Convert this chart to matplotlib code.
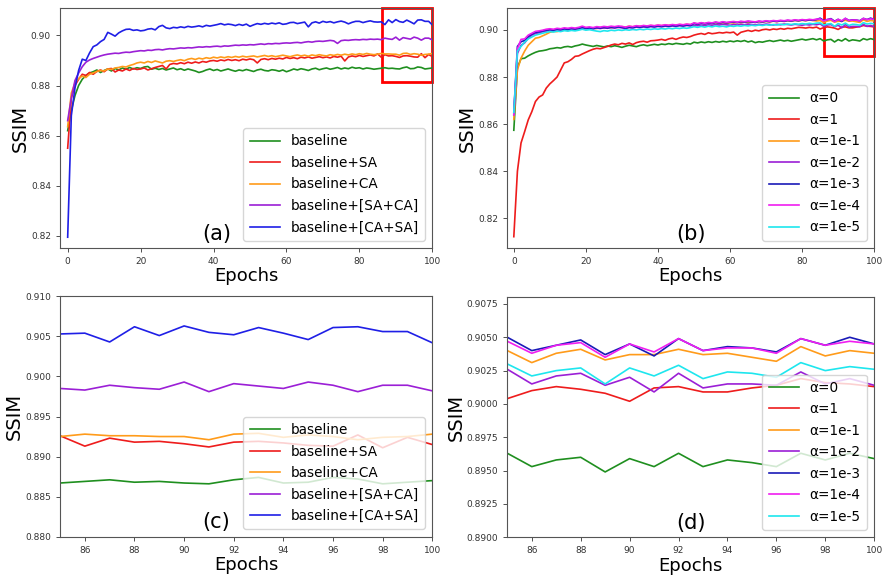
import matplotlib
matplotlib.use("Agg")
import matplotlib.pyplot as plt
from matplotlib.patches import Rectangle
import numpy as np

# ---------------- data ----------------
epochs_full = list(range(0, 101))
epochs_zoom = list(range(85, 101))

# Panel (a): epochs 0..84
a_baseline_early = [
    0.8620, 0.8700, 0.8760, 0.8800, 0.8825, 0.8840, 0.8850, 0.8855, 0.8862, 0.8852,
    0.8860, 0.8866, 0.8858, 0.8868, 0.8862, 0.8870, 0.8865, 0.8872, 0.8866, 0.8871,
    0.8868, 0.8874, 0.8876, 0.8865, 0.8869, 0.8864, 0.8868, 0.8862, 0.8866, 0.8870,
    0.8863, 0.8867, 0.8861, 0.8866, 0.8862, 0.8858, 0.8852, 0.8856, 0.8862, 0.8866,
    0.8860, 0.8864, 0.8858, 0.8862, 0.8866, 0.8861, 0.8857, 0.8862, 0.8859, 0.8864,
    0.8860, 0.8856, 0.8862, 0.8865, 0.8860, 0.8858, 0.8863, 0.8861, 0.8857, 0.8862,
    0.8855, 0.8860, 0.8866, 0.8862, 0.8867, 0.8864, 0.8860, 0.8866, 0.8869, 0.8863,
    0.8867, 0.8870, 0.8865, 0.8868, 0.8872, 0.8866, 0.8870, 0.8867, 0.8873, 0.8869,
    0.8871, 0.8866, 0.8870, 0.8868, 0.8865]
a_sa_early = [
    0.8550, 0.8750, 0.8800, 0.8825, 0.8845, 0.8840, 0.8852, 0.8845, 0.8856, 0.8862,
    0.8855, 0.8866, 0.8868, 0.8854, 0.8862, 0.8858, 0.8866, 0.8860, 0.8868, 0.8864,
    0.8866, 0.8870, 0.8862, 0.8867, 0.8872, 0.8876, 0.8880, 0.8866, 0.8884, 0.8888,
    0.8886, 0.8891, 0.8887, 0.8893, 0.8889, 0.8894, 0.8890, 0.8896, 0.8893, 0.8898,
    0.8900, 0.8897, 0.8902, 0.8899, 0.8904, 0.8900, 0.8903, 0.8899, 0.8905, 0.8902,
    0.8906, 0.8903, 0.8890, 0.8904, 0.8907, 0.8903, 0.8908, 0.8905, 0.8909, 0.8906,
    0.8912, 0.8908, 0.8911, 0.8907, 0.8913, 0.8910, 0.8914, 0.8909, 0.8912, 0.8915,
    0.8911, 0.8914, 0.8910, 0.8916, 0.8913, 0.8917, 0.8898, 0.8914, 0.8918, 0.8915,
    0.8920, 0.8916, 0.8919, 0.8922, 0.8918]
a_ca_early = [
    0.8636, 0.8770, 0.8810, 0.8828, 0.8838, 0.8832, 0.8845, 0.8850, 0.8856, 0.8860,
    0.8858, 0.8866, 0.8864, 0.8870, 0.8872, 0.8876, 0.8874, 0.8880, 0.8884, 0.8890,
    0.8893, 0.8890, 0.8896, 0.8892, 0.8898, 0.8894, 0.8890, 0.8897, 0.8899, 0.8896,
    0.8900, 0.8903, 0.8899, 0.8905, 0.8908, 0.8904, 0.8909, 0.8906, 0.8911, 0.8908,
    0.8913, 0.8910, 0.8914, 0.8911, 0.8915, 0.8912, 0.8916, 0.8913, 0.8917, 0.8914,
    0.8916, 0.8918, 0.8914, 0.8917, 0.8920, 0.8916, 0.8919, 0.8915, 0.8918, 0.8921,
    0.8918, 0.8915, 0.8919, 0.8922, 0.8918, 0.8921, 0.8917, 0.8922, 0.8919, 0.8923,
    0.8920, 0.8918, 0.8923, 0.8920, 0.8924, 0.8921, 0.8925, 0.8922, 0.8926, 0.8923,
    0.8927, 0.8924, 0.8928, 0.8925, 0.8923]
a_sa_ca_early = [
    0.8660, 0.8750, 0.8820, 0.8850, 0.8875, 0.8893, 0.8902, 0.8908, 0.8913, 0.8918,
    0.8922, 0.8925, 0.8927, 0.8929, 0.8928, 0.8931, 0.8933, 0.8932, 0.8935, 0.8937,
    0.8939, 0.8938, 0.8941, 0.8940, 0.8943, 0.8944, 0.8942, 0.8945, 0.8947, 0.8946,
    0.8948, 0.8950, 0.8949, 0.8951, 0.8950, 0.8952, 0.8954, 0.8953, 0.8955, 0.8954,
    0.8956, 0.8957, 0.8955, 0.8958, 0.8957, 0.8959, 0.8961, 0.8960, 0.8962, 0.8961,
    0.8963, 0.8962, 0.8964, 0.8966, 0.8964, 0.8967, 0.8966, 0.8968, 0.8967, 0.8969,
    0.8970, 0.8969, 0.8971, 0.8972, 0.8970, 0.8973, 0.8975, 0.8973, 0.8976, 0.8977,
    0.8976, 0.8978, 0.8980, 0.8978, 0.8968, 0.8979, 0.8981, 0.8980, 0.8982, 0.8983,
    0.8982, 0.8984, 0.8983, 0.8985, 0.8984]
a_ca_sa_early = [
    0.8195, 0.8680, 0.8790, 0.8860, 0.8905, 0.8900, 0.8930, 0.8955, 0.8962, 0.8975,
    0.8984, 0.9012, 0.9005, 0.8997, 0.9010, 0.9018, 0.9024, 0.9025, 0.9020, 0.9022,
    0.9018, 0.9020, 0.9025, 0.9027, 0.9022, 0.9035, 0.9040, 0.9030, 0.9027, 0.9032,
    0.9030, 0.9034, 0.9031, 0.9036, 0.9033, 0.9035, 0.9038, 0.9034, 0.9040, 0.9037,
    0.9040, 0.9043, 0.9047, 0.9042, 0.9045, 0.9043, 0.9039, 0.9044, 0.9040, 0.9045,
    0.9036, 0.9042, 0.9047, 0.9044, 0.9048, 0.9045, 0.9049, 0.9046, 0.9050, 0.9044,
    0.9046, 0.9051, 0.9052, 0.9047, 0.9050, 0.9053, 0.9034, 0.9050, 0.9054, 0.9049,
    0.9056, 0.9052, 0.9055, 0.9050, 0.9054, 0.9057, 0.9053, 0.9046, 0.9052, 0.9056,
    0.9056, 0.9051, 0.9055, 0.9058, 0.9054]

# Panel (c): epochs 85..100
c_baseline = [0.8867, 0.8869, 0.8871, 0.8868, 0.8869, 0.8867, 0.8866, 0.8871, 0.8874,
              0.8867, 0.8868, 0.8874, 0.8872, 0.8866, 0.8868, 0.8870]
c_sa = [0.8926, 0.8913, 0.8923, 0.8918, 0.8919, 0.8916, 0.8912, 0.8918, 0.8919,
        0.8917, 0.8914, 0.8913, 0.8927, 0.8911, 0.8924, 0.8915]
c_ca = [0.8925, 0.8928, 0.8926, 0.8926, 0.8925, 0.8925, 0.8921, 0.8928, 0.8929,
        0.8924, 0.8927, 0.8925, 0.8921, 0.8924, 0.8925, 0.8928]
c_sa_ca = [0.8985, 0.8983, 0.8989, 0.8986, 0.8984, 0.8993, 0.8981, 0.8991, 0.8988,
           0.8985, 0.8993, 0.8989, 0.8981, 0.8989, 0.8989, 0.8982]
c_ca_sa = [0.9053, 0.9054, 0.9043, 0.9062, 0.9051, 0.9063, 0.9055, 0.9052, 0.9061,
           0.9054, 0.9046, 0.9061, 0.9062, 0.9056, 0.9056, 0.9042]

# Panel (b): epochs 0..84
b_a0_early = [
    0.8574, 0.8840, 0.8878, 0.8880, 0.8890, 0.8898, 0.8905, 0.8910, 0.8912, 0.8915,
    0.8920, 0.8922, 0.8925, 0.8923, 0.8928, 0.8930, 0.8927, 0.8932, 0.8935, 0.8940,
    0.8936, 0.8933, 0.8930, 0.8934, 0.8931, 0.8928, 0.8932, 0.8929, 0.8933, 0.8930,
    0.8926, 0.8931, 0.8935, 0.8932, 0.8929, 0.8934, 0.8937, 0.8933, 0.8936, 0.8939,
    0.8936, 0.8940, 0.8938, 0.8942, 0.8939, 0.8943, 0.8941, 0.8939, 0.8943, 0.8940,
    0.8948, 0.8945, 0.8949, 0.8946, 0.8950, 0.8947, 0.8951, 0.8948, 0.8952, 0.8949,
    0.8953, 0.8950, 0.8954, 0.8951, 0.8955, 0.8949, 0.8953, 0.8946, 0.8950, 0.8948,
    0.8952, 0.8955, 0.8951, 0.8954, 0.8957, 0.8953, 0.8956, 0.8952, 0.8955, 0.8958,
    0.8961, 0.8957, 0.8960, 0.8963, 0.8958]
b_a1_early = [
    0.8122, 0.8400, 0.8520, 0.8568, 0.8618, 0.8653, 0.8696, 0.8715, 0.8724, 0.8753,
    0.8771, 0.8785, 0.8800, 0.8830, 0.8860, 0.8865, 0.8875, 0.8888, 0.8890, 0.8898,
    0.8905, 0.8912, 0.8918, 0.8922, 0.8920, 0.8925, 0.8930, 0.8936, 0.8940, 0.8937,
    0.8943, 0.8940, 0.8945, 0.8938, 0.8946, 0.8950, 0.8952, 0.8948, 0.8954, 0.8955,
    0.8957, 0.8960, 0.8956, 0.8962, 0.8965, 0.8960, 0.8966, 0.8970, 0.8968, 0.8972,
    0.8978, 0.8982, 0.8985, 0.8981, 0.8988, 0.8984, 0.8986, 0.8989, 0.8987, 0.8990,
    0.8988, 0.8991, 0.8978, 0.8990, 0.8994, 0.8998, 0.8994, 0.8999, 0.8996, 0.9001,
    0.9003, 0.9000, 0.9004, 0.9002, 0.9006, 0.9003, 0.9007, 0.9005, 0.9008, 0.9011,
    0.9010, 0.9008, 0.9011, 0.9009, 0.9012]
b_a1e1_early = [
    0.8620, 0.8830, 0.8880, 0.8910, 0.8935, 0.8950, 0.8965, 0.8968, 0.8975, 0.8982,
    0.8990, 0.8994, 0.8993, 0.8997, 0.9000, 0.8998, 0.9002, 0.9000, 0.9003, 0.9005,
    0.9007, 0.9004, 0.9008, 0.9006, 0.9010, 0.9008, 0.9012, 0.9009, 0.9013, 0.9011,
    0.9014, 0.9012, 0.9016, 0.9013, 0.9017, 0.9015, 0.9018, 0.9016, 0.9019, 0.9017,
    0.9020, 0.9018, 0.9021, 0.9019, 0.9022, 0.9020, 0.9023, 0.9021, 0.9024, 0.9022,
    0.9028, 0.9025, 0.9029, 0.9026, 0.9030, 0.9027, 0.9031, 0.9028, 0.9030, 0.9027,
    0.9031, 0.9029, 0.9032, 0.9030, 0.9033, 0.9031, 0.9034, 0.9032, 0.9035, 0.9033,
    0.9036, 0.9034, 0.9037, 0.9035, 0.9038, 0.9036, 0.9039, 0.9037, 0.9040, 0.9038,
    0.9041, 0.9039, 0.9042, 0.9040, 0.9038]
b_a1e2_early = [
    0.8640, 0.8900, 0.8935, 0.8945, 0.8965, 0.8978, 0.8985, 0.8988, 0.8992, 0.8995,
    0.8998, 0.8996, 0.9000, 0.8998, 0.9002, 0.9000, 0.9004, 0.9002, 0.9005, 0.9008,
    0.9005, 0.9007, 0.9004, 0.9008, 0.9006, 0.9009, 0.9007, 0.9010, 0.9008, 0.9011,
    0.9009, 0.9006, 0.9010, 0.9008, 0.9012, 0.9010, 0.9013, 0.9011, 0.9014, 0.9012,
    0.9015, 0.9013, 0.9016, 0.9014, 0.9017, 0.9015, 0.9018, 0.9016, 0.9019, 0.9017,
    0.9020, 0.9018, 0.9021, 0.9019, 0.9022, 0.9020, 0.9023, 0.9021, 0.9024, 0.9022,
    0.9020, 0.9023, 0.9021, 0.9024, 0.9022, 0.9025, 0.9023, 0.9021, 0.9024, 0.9022,
    0.9025, 0.9023, 0.9021, 0.9024, 0.9022, 0.9025, 0.9023, 0.9021, 0.9024, 0.9022,
    0.9020, 0.9023, 0.9021, 0.9024, 0.9022]
b_a1e3_early = [
    0.8650, 0.8930, 0.8950, 0.8955, 0.8972, 0.8982, 0.8990, 0.8992, 0.8996, 0.8999,
    0.9001, 0.8999, 0.9003, 0.9001, 0.9005, 0.9003, 0.9006, 0.9004, 0.9007, 0.9010,
    0.9007, 0.9009, 0.9006, 0.9010, 0.9008, 0.9011, 0.9009, 0.9012, 0.9010, 0.9013,
    0.9011, 0.9008, 0.9012, 0.9010, 0.9014, 0.9012, 0.9015, 0.9013, 0.9016, 0.9014,
    0.9017, 0.9015, 0.9018, 0.9016, 0.9019, 0.9017, 0.9020, 0.9018, 0.9021, 0.9019,
    0.9028, 0.9024, 0.9029, 0.9026, 0.9030, 0.9028, 0.9032, 0.9029, 0.9033, 0.9030,
    0.9032, 0.9034, 0.9031, 0.9035, 0.9033, 0.9036, 0.9034, 0.9032, 0.9036, 0.9034,
    0.9037, 0.9035, 0.9038, 0.9036, 0.9039, 0.9037, 0.9040, 0.9038, 0.9041, 0.9039,
    0.9042, 0.9040, 0.9043, 0.9041, 0.9044]
b_a1e4_early = [
    0.8640, 0.8920, 0.8960, 0.8962, 0.8978, 0.8986, 0.8994, 0.8996, 0.8999, 0.9003,
    0.9005, 0.9003, 0.9007, 0.9005, 0.9009, 0.9007, 0.9010, 0.9008, 0.9011, 0.9016,
    0.9011, 0.9013, 0.9010, 0.9014, 0.9012, 0.9015, 0.9013, 0.9016, 0.9014, 0.9017,
    0.9015, 0.9012, 0.9016, 0.9014, 0.9018, 0.9016, 0.9019, 0.9017, 0.9020, 0.9018,
    0.9021, 0.9019, 0.9022, 0.9020, 0.9023, 0.9021, 0.9024, 0.9022, 0.9025, 0.9023,
    0.9030, 0.9027, 0.9031, 0.9028, 0.9032, 0.9030, 0.9034, 0.9031, 0.9035, 0.9032,
    0.9034, 0.9036, 0.9033, 0.9037, 0.9035, 0.9038, 0.9036, 0.9034, 0.9038, 0.9036,
    0.9039, 0.9037, 0.9040, 0.9038, 0.9041, 0.9039, 0.9042, 0.9040, 0.9043, 0.9041,
    0.9044, 0.9042, 0.9045, 0.9043, 0.9046]
b_a1e5_early = [
    0.8650, 0.8910, 0.8930, 0.8948, 0.8962, 0.8970, 0.8978, 0.8982, 0.8986, 0.8990,
    0.8993, 0.8991, 0.8995, 0.8993, 0.8997, 0.8995, 0.8998, 0.8996, 0.8999, 0.9003,
    0.8999, 0.9001, 0.8998, 0.8995, 0.8993, 0.8997, 0.8995, 0.8999, 0.8997, 0.9000,
    0.8998, 0.9001, 0.8999, 0.9002, 0.9000, 0.9003, 0.9001, 0.9004, 0.9002, 0.9005,
    0.9003, 0.9006, 0.9004, 0.9007, 0.9005, 0.9008, 0.9006, 0.9009, 0.9007, 0.9010,
    0.9014, 0.9011, 0.9015, 0.9012, 0.9016, 0.9013, 0.9017, 0.9014, 0.9016, 0.9013,
    0.9017, 0.9015, 0.9018, 0.9016, 0.9019, 0.9017, 0.9020, 0.9018, 0.9021, 0.9019,
    0.9022, 0.9020, 0.9023, 0.9021, 0.9024, 0.9022, 0.9025, 0.9023, 0.9026, 0.9024,
    0.9027, 0.9025, 0.9028, 0.9026, 0.9029]

# Panel (d): epochs 85..100
d_a0 = [0.8963, 0.8953, 0.8958, 0.8960, 0.8949, 0.8959, 0.8953, 0.8963, 0.8953,
        0.8958, 0.8956, 0.8953, 0.8963, 0.8958, 0.8963, 0.8959]
d_a1 = [0.9004, 0.9010, 0.9013, 0.9011, 0.9008, 0.9002, 0.9012, 0.9013, 0.9009,
        0.9009, 0.9012, 0.9014, 0.9019, 0.9016, 0.9015, 0.9013]
d_a1e1 = [0.9040, 0.9031, 0.9038, 0.9041, 0.9033, 0.9037, 0.9037, 0.9041, 0.9037,
          0.9038, 0.9035, 0.9032, 0.9043, 0.9036, 0.9040, 0.9038]
d_a1e2 = [0.9026, 0.9015, 0.9021, 0.9023, 0.9014, 0.9020, 0.9009, 0.9023, 0.9012,
          0.9015, 0.9015, 0.9014, 0.9024, 0.9015, 0.9019, 0.9014]
d_a1e3 = [0.9050, 0.9040, 0.9044, 0.9048, 0.9037, 0.9045, 0.9036, 0.9049, 0.9040,
          0.9043, 0.9042, 0.9039, 0.9049, 0.9044, 0.9050, 0.9045]
d_a1e4 = [0.9047, 0.9038, 0.9044, 0.9046, 0.9035, 0.9045, 0.9039, 0.9049, 0.9040,
          0.9042, 0.9042, 0.9038, 0.9049, 0.9044, 0.9047, 0.9045]
d_a1e5 = [0.9030, 0.9021, 0.9025, 0.9027, 0.9015, 0.9027, 0.9021, 0.9029, 0.9019,
          0.9024, 0.9023, 0.9020, 0.9031, 0.9025, 0.9028, 0.9026]

labels_ab = ["baseline", "baseline+SA", "baseline+CA", "baseline+[SA+CA]", "baseline+[CA+SA]"]
labels_alpha = ["α=0", "α=1", "α=1e-1", "α=1e-2", "α=1e-3", "α=1e-4", "α=1e-5"]

colors_a = ["#1f8f1f", "#ee1c1c", "#ff9b1a", "#9b1fd6", "#1f1fe6"]
colors_b = ["#1f8f1f", "#ee1c1c", "#ff9b1a", "#9b1fd6", "#1a1ab8", "#f01ef0", "#1ee6ee"]

a_early = [a_baseline_early, a_sa_early, a_ca_early, a_sa_ca_early, a_ca_sa_early]
c_late = [c_baseline, c_sa, c_ca, c_sa_ca, c_ca_sa]
b_early = [b_a0_early, b_a1_early, b_a1e1_early, b_a1e2_early, b_a1e3_early, b_a1e4_early, b_a1e5_early]
d_late = [d_a0, d_a1, d_a1e1, d_a1e2, d_a1e3, d_a1e4, d_a1e5]

# ---------------- figure ----------------
plt.rcParams['font.family'] = ['DejaVu Sans']
fig = plt.figure(figsize=(8.84, 5.75), dpi=100)

ax_a = fig.add_axes([0.0679, 0.5687, 0.4211, 0.4173])
ax_b = fig.add_axes([0.5739, 0.5687, 0.4150, 0.4169])
ax_c = fig.add_axes([0.0679, 0.0666, 0.4211, 0.4181])
ax_d = fig.add_axes([0.5739, 0.0656, 0.4150, 0.4174])

LW = 1.2
tick_kw = dict(labelsize=6.5, colors='#333333', length=3, width=0.6)
leg_kw = dict(loc='lower right', fontsize=9.8, handlelength=2.2, borderpad=0.45,
              labelspacing=0.55, handletextpad=0.8, bbox_to_anchor=(1.0, 0.0),
              borderaxespad=0.55)


def style(ax):
    for s in ax.spines.values():
        s.set_color('#555555')
        s.set_linewidth(0.8)
    ax.tick_params(**tick_kw)
    ax.set_xlabel("Epochs", fontsize=13, labelpad=1)
    ax.set_ylabel("SSIM", fontsize=14, labelpad=1)


# (a)
for ser, late, lab, col in zip(a_early, c_late, labels_ab, colors_a):
    ax_a.plot(epochs_full, ser + late, color=col, lw=LW, label=lab)
ax_a.set_xlim(-2.1, 100)
ax_a.set_ylim(0.8152, 0.9109)
ax_a.set_yticks([0.82, 0.84, 0.86, 0.88, 0.90])
ax_a.set_yticklabels(["0.82", "0.84", "0.86", "0.88", "0.90"])
ax_a.set_xticks([0, 20, 40, 60, 80, 100])
style(ax_a)
ax_a.legend(**leg_kw)
ax_a.text(0.42, 0.06, "(a)", transform=ax_a.transAxes, fontsize=15, ha='center', va='center')
ax_a.add_patch(Rectangle((86.1, 0.8815), 13.9, 0.0294, fill=False, ec='red', lw=2, clip_on=False))

# (b)
for ser, late, lab, col in zip(b_early, d_late, labels_alpha, colors_b):
    ax_b.plot(epochs_full, ser + late, color=col, lw=LW, label=lab)
ax_b.set_xlim(-1.8, 100)
ax_b.set_ylim(0.8074, 0.9092)
ax_b.set_yticks([0.82, 0.84, 0.86, 0.88, 0.90])
ax_b.set_yticklabels(["0.82", "0.84", "0.86", "0.88", "0.90"])
ax_b.set_xticks([0, 20, 40, 60, 80, 100])
style(ax_b)
ax_b.legend(**leg_kw)
ax_b.text(0.50, 0.06, "(b)", transform=ax_b.transAxes, fontsize=15, ha='center', va='center')
ax_b.add_patch(Rectangle((86.2, 0.8891), 13.8, 0.0201, fill=False, ec='red', lw=2, clip_on=False))

# (c)
for late, lab, col in zip(c_late, labels_ab, colors_a):
    ax_c.plot(epochs_zoom, late, color=col, lw=LW, label=lab)
ax_c.set_xlim(85, 100)
ax_c.set_ylim(0.880, 0.910)
ax_c.set_yticks([0.880, 0.885, 0.890, 0.895, 0.900, 0.905, 0.910])
ax_c.set_yticklabels(["0.880", "0.885", "0.890", "0.895", "0.900", "0.905", "0.910"])
ax_c.set_xticks([86, 88, 90, 92, 94, 96, 98, 100])
style(ax_c)
ax_c.legend(**leg_kw)
ax_c.text(0.42, 0.06, "(c)", transform=ax_c.transAxes, fontsize=15, ha='center', va='center')

# (d)
for late, lab, col in zip(d_late, labels_alpha, colors_b):
    ax_d.plot(epochs_zoom, late, color=col, lw=LW, label=lab)
ax_d.set_xlim(85, 100)
ax_d.set_ylim(0.8900, 0.9080)
yt = [0.8900, 0.8925, 0.8950, 0.8975, 0.9000, 0.9025, 0.9050, 0.9075]
ax_d.set_yticks(yt)
ax_d.set_yticklabels(["%.4f" % v for v in yt])
ax_d.set_xticks([86, 88, 90, 92, 94, 96, 98, 100])
style(ax_d)
ax_d.legend(**leg_kw)
ax_d.text(0.50, 0.06, "(d)", transform=ax_d.transAxes, fontsize=15, ha='center', va='center')

fig.savefig("out.png", dpi=100)
